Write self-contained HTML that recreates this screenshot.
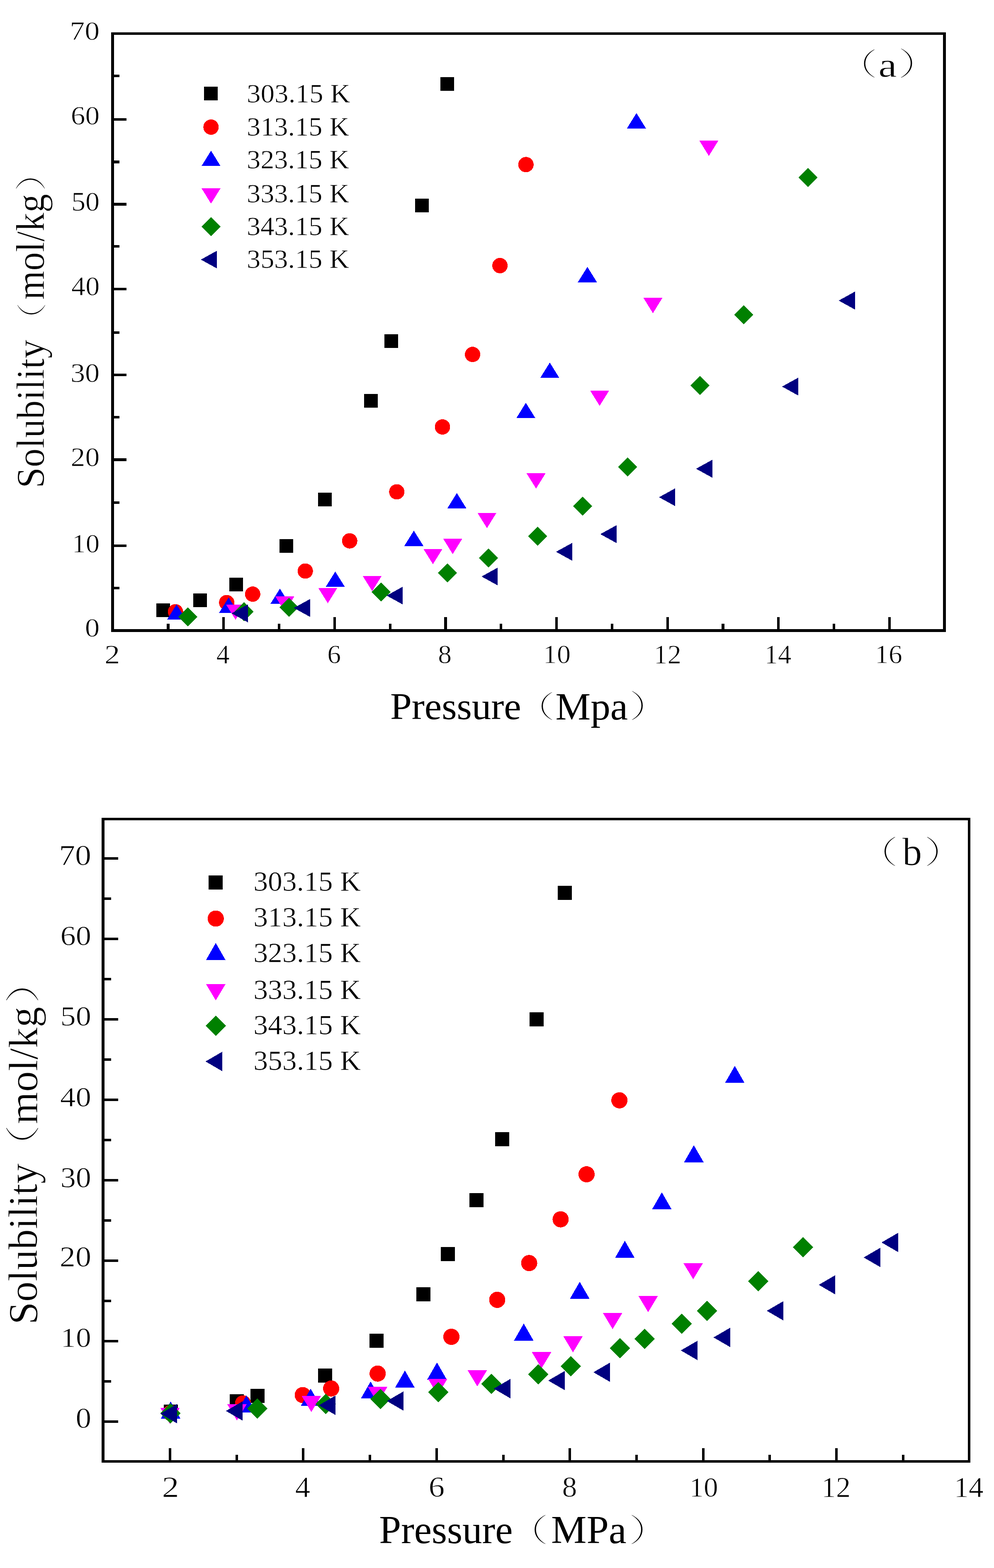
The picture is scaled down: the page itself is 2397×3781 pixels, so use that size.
<!DOCTYPE html>
<html><head><meta charset="utf-8"><title>Solubility vs Pressure</title>
<style>html,body{margin:0;padding:0;background:#fff;}svg{display:block;}</style></head>
<body>
<svg width="2397" height="3781" viewBox="0 0 2397 3781">
<rect x="0" y="0" width="2397" height="3781" fill="#fff"/>
<g shape-rendering="crispEdges">
<rect x="268.20" y="77.50" width="2012.70" height="6.40" fill="#000"/>
<rect x="268.20" y="1517.00" width="2012.70" height="6.70" fill="#000"/>
<rect x="268.20" y="77.50" width="6.80" height="1446.20" fill="#000"/>
<rect x="2274.10" y="77.50" width="6.80" height="1446.20" fill="#000"/>
<rect x="275.00" y="1312.85" width="30.00" height="6.30" fill="#000"/>
<rect x="275.00" y="1105.45" width="30.00" height="6.30" fill="#000"/>
<rect x="275.00" y="900.85" width="30.00" height="6.30" fill="#000"/>
<rect x="275.00" y="693.65" width="30.00" height="6.30" fill="#000"/>
<rect x="275.00" y="489.35" width="30.00" height="6.30" fill="#000"/>
<rect x="275.00" y="285.05" width="30.00" height="6.30" fill="#000"/>
<rect x="275.00" y="1414.85" width="13.00" height="6.30" fill="#000"/>
<rect x="275.00" y="1208.85" width="13.00" height="6.30" fill="#000"/>
<rect x="275.00" y="1002.85" width="13.00" height="6.30" fill="#000"/>
<rect x="275.00" y="798.65" width="13.00" height="6.30" fill="#000"/>
<rect x="275.00" y="591.05" width="13.00" height="6.30" fill="#000"/>
<rect x="275.00" y="387.35" width="13.00" height="6.30" fill="#000"/>
<rect x="275.00" y="179.75" width="13.00" height="6.30" fill="#000"/>
<rect x="536.07" y="1488.00" width="6.30" height="29.00" fill="#000"/>
<rect x="803.69" y="1488.00" width="6.30" height="29.00" fill="#000"/>
<rect x="1071.31" y="1488.00" width="6.30" height="29.00" fill="#000"/>
<rect x="1338.93" y="1488.00" width="6.30" height="29.00" fill="#000"/>
<rect x="1606.55" y="1488.00" width="6.30" height="29.00" fill="#000"/>
<rect x="1874.17" y="1488.00" width="6.30" height="29.00" fill="#000"/>
<rect x="2141.79" y="1488.00" width="6.30" height="29.00" fill="#000"/>
<rect x="402.26" y="1503.60" width="6.30" height="13.40" fill="#000"/>
<rect x="669.88" y="1503.60" width="6.30" height="13.40" fill="#000"/>
<rect x="937.50" y="1503.60" width="6.30" height="13.40" fill="#000"/>
<rect x="1205.12" y="1503.60" width="6.30" height="13.40" fill="#000"/>
<rect x="1472.74" y="1503.60" width="6.30" height="13.40" fill="#000"/>
<rect x="1740.36" y="1503.60" width="6.30" height="13.40" fill="#000"/>
<rect x="2007.98" y="1503.60" width="6.30" height="13.40" fill="#000"/>
<rect x="245.10" y="1972.00" width="2094.90" height="6.30" fill="#000"/>
<rect x="245.10" y="3521.00" width="2094.90" height="6.40" fill="#000"/>
<rect x="245.10" y="1972.00" width="6.70" height="1555.40" fill="#000"/>
<rect x="2333.90" y="1972.00" width="6.10" height="1555.40" fill="#000"/>
<rect x="251.80" y="3425.20" width="33.00" height="6.20" fill="#000"/>
<rect x="251.80" y="3231.20" width="33.00" height="6.20" fill="#000"/>
<rect x="251.80" y="3037.20" width="33.00" height="6.20" fill="#000"/>
<rect x="251.80" y="2843.20" width="33.00" height="6.20" fill="#000"/>
<rect x="251.80" y="2649.20" width="33.00" height="6.20" fill="#000"/>
<rect x="251.80" y="2455.20" width="33.00" height="6.20" fill="#000"/>
<rect x="251.80" y="2261.20" width="33.00" height="6.20" fill="#000"/>
<rect x="251.80" y="2067.20" width="33.00" height="6.20" fill="#000"/>
<rect x="251.80" y="3328.20" width="16.40" height="6.20" fill="#000"/>
<rect x="251.80" y="3134.20" width="16.40" height="6.20" fill="#000"/>
<rect x="251.80" y="2940.20" width="16.40" height="6.20" fill="#000"/>
<rect x="251.80" y="2746.20" width="16.40" height="6.20" fill="#000"/>
<rect x="251.80" y="2552.20" width="16.40" height="6.20" fill="#000"/>
<rect x="251.80" y="2358.20" width="16.40" height="6.20" fill="#000"/>
<rect x="251.80" y="2164.20" width="16.40" height="6.20" fill="#000"/>
<rect x="406.60" y="3491.70" width="6.40" height="29.30" fill="#000"/>
<rect x="728.08" y="3491.70" width="6.40" height="29.30" fill="#000"/>
<rect x="1049.56" y="3491.70" width="6.40" height="29.30" fill="#000"/>
<rect x="1371.04" y="3491.70" width="6.40" height="29.30" fill="#000"/>
<rect x="1692.52" y="3491.70" width="6.40" height="29.30" fill="#000"/>
<rect x="2014.00" y="3491.70" width="6.40" height="29.30" fill="#000"/>
<rect x="567.54" y="3508.40" width="6.00" height="12.60" fill="#000"/>
<rect x="889.02" y="3508.40" width="6.00" height="12.60" fill="#000"/>
<rect x="1210.50" y="3508.40" width="6.00" height="12.60" fill="#000"/>
<rect x="1531.98" y="3508.40" width="6.00" height="12.60" fill="#000"/>
<rect x="1853.46" y="3508.40" width="6.00" height="12.60" fill="#000"/>
<rect x="2174.94" y="3508.40" width="6.00" height="12.60" fill="#000"/>
<rect x="377.1" y="1454.5" width="33" height="33" fill="#000000"/>
<rect x="466.0" y="1431.3" width="33" height="33" fill="#000000"/>
<rect x="553.2" y="1393.3" width="33" height="33" fill="#000000"/>
<rect x="673.5" y="1299.7" width="33" height="33" fill="#000000"/>
<rect x="767.3" y="1187.5" width="33" height="33" fill="#000000"/>
<rect x="878.0" y="950.3" width="33" height="33" fill="#000000"/>
<rect x="927.1" y="805.5" width="33" height="33" fill="#000000"/>
<rect x="1001.3" y="478.9" width="33" height="33" fill="#000000"/>
<rect x="1062.2" y="185.9" width="33" height="33" fill="#000000"/>
<circle cx="423.2" cy="1475.2" r="18.5" fill="#ff0000"/>
<circle cx="546.7" cy="1453.0" r="18.5" fill="#ff0000"/>
<circle cx="609.3" cy="1432.7" r="18.5" fill="#ff0000"/>
<circle cx="736.2" cy="1377.0" r="18.5" fill="#ff0000"/>
<circle cx="843.2" cy="1304.2" r="18.5" fill="#ff0000"/>
<circle cx="956.8" cy="1186.0" r="18.5" fill="#ff0000"/>
<circle cx="1067.0" cy="1029.4" r="18.5" fill="#ff0000"/>
<circle cx="1139.6" cy="854.7" r="18.5" fill="#ff0000"/>
<circle cx="1205.6" cy="640.5" r="18.5" fill="#ff0000"/>
<circle cx="1268.3" cy="396.9" r="18.5" fill="#ff0000"/>
<polygon points="425.8,1457.3 448.8,1494.3 402.8,1494.3" fill="#0000ff"/>
<polygon points="551.4,1440.7 574.4,1477.7 528.4,1477.7" fill="#0000ff"/>
<polygon points="675.0,1419.3 698.0,1456.3 652.0,1456.3" fill="#0000ff"/>
<polygon points="808.5,1378.1 831.5,1415.1 785.5,1415.1" fill="#0000ff"/>
<polygon points="998.0,1279.5 1021.0,1316.5 975.0,1316.5" fill="#0000ff"/>
<polygon points="1101.7,1188.9 1124.7,1225.9 1078.7,1225.9" fill="#0000ff"/>
<polygon points="1268.1,971.3 1291.1,1008.3 1245.1,1008.3" fill="#0000ff"/>
<polygon points="1325.8,874.3 1348.8,911.3 1302.8,911.3" fill="#0000ff"/>
<polygon points="1416.5,643.5 1439.5,680.5 1393.5,680.5" fill="#0000ff"/>
<polygon points="1534.8,272.7 1557.8,309.7 1511.8,309.7" fill="#0000ff"/>
<polygon points="545.0,1457.5 591.0,1457.5 568.0,1494.5" fill="#ff00ff"/>
<polygon points="663.8,1438.0 709.8,1438.0 686.8,1475.0" fill="#ff00ff"/>
<polygon points="767.5,1417.7 813.5,1417.7 790.5,1454.7" fill="#ff00ff"/>
<polygon points="874.5,1388.5 920.5,1388.5 897.5,1425.5" fill="#ff00ff"/>
<polygon points="1021.0,1323.5 1067.0,1323.5 1044.0,1360.5" fill="#ff00ff"/>
<polygon points="1068.7,1299.1 1114.7,1299.1 1091.7,1336.1" fill="#ff00ff"/>
<polygon points="1151.3,1236.5 1197.3,1236.5 1174.3,1273.5" fill="#ff00ff"/>
<polygon points="1269.7,1141.2 1315.7,1141.2 1292.7,1178.2" fill="#ff00ff"/>
<polygon points="1423.0,941.7 1469.0,941.7 1446.0,978.7" fill="#ff00ff"/>
<polygon points="1551.5,718.2 1597.5,718.2 1574.5,755.2" fill="#ff00ff"/>
<polygon points="1686.4,339.0 1732.4,339.0 1709.4,376.0" fill="#ff00ff"/>
<polygon points="453.0,1464.4 476.0,1487.4 453.0,1510.4 430.0,1487.4" fill="#008000"/>
<polygon points="588.0,1452.0 611.0,1475.0 588.0,1498.0 565.0,1475.0" fill="#008000"/>
<polygon points="697.0,1441.4 720.0,1464.4 697.0,1487.4 674.0,1464.4" fill="#008000"/>
<polygon points="919.0,1404.3 942.0,1427.3 919.0,1450.3 896.0,1427.3" fill="#008000"/>
<polygon points="1078.8,1358.5 1101.8,1381.5 1078.8,1404.5 1055.8,1381.5" fill="#008000"/>
<polygon points="1177.5,1322.5 1200.5,1345.5 1177.5,1368.5 1154.5,1345.5" fill="#008000"/>
<polygon points="1296.0,1270.0 1319.0,1293.0 1296.0,1316.0 1273.0,1293.0" fill="#008000"/>
<polygon points="1405.0,1197.2 1428.0,1220.2 1405.0,1243.2 1382.0,1220.2" fill="#008000"/>
<polygon points="1513.4,1103.3 1536.4,1126.3 1513.4,1149.3 1490.4,1126.3" fill="#008000"/>
<polygon points="1688.0,906.1 1711.0,929.1 1688.0,952.1 1665.0,929.1" fill="#008000"/>
<polygon points="1793.6,735.9 1816.6,758.9 1793.6,781.9 1770.6,758.9" fill="#008000"/>
<polygon points="1948.4,405.1 1971.4,428.1 1948.4,451.1 1925.4,428.1" fill="#008000"/>
<polygon points="558.5,1479.0 597.5,1457.5 597.5,1500.5" fill="#000080"/>
<polygon points="708.6,1466.0 747.6,1444.5 747.6,1487.5" fill="#000080"/>
<polygon points="932.4,1436.2 971.4,1414.7 971.4,1457.7" fill="#000080"/>
<polygon points="1161.3,1390.2 1200.3,1368.7 1200.3,1411.7" fill="#000080"/>
<polygon points="1340.9,1330.6 1379.9,1309.1 1379.9,1352.1" fill="#000080"/>
<polygon points="1447.7,1288.0 1486.7,1266.5 1486.7,1309.5" fill="#000080"/>
<polygon points="1589.3,1199.0 1628.3,1177.5 1628.3,1220.5" fill="#000080"/>
<polygon points="1678.5,1130.3 1717.5,1108.8 1717.5,1151.8" fill="#000080"/>
<polygon points="1885.9,932.2 1924.9,910.7 1924.9,953.7" fill="#000080"/>
<polygon points="2022.5,724.8 2061.5,703.3 2061.5,746.3" fill="#000080"/>
<rect x="394.9" y="3386.9" width="34" height="34" fill="#000000"/>
<rect x="554.4" y="3361.5" width="34" height="34" fill="#000000"/>
<rect x="603.5" y="3348.7" width="34" height="34" fill="#000000"/>
<rect x="766.5" y="3300.4" width="34" height="34" fill="#000000"/>
<rect x="890.5" y="3216.3" width="34" height="34" fill="#000000"/>
<rect x="1003.7" y="3104.3" width="34" height="34" fill="#000000"/>
<rect x="1063.4" y="3007.2" width="34" height="34" fill="#000000"/>
<rect x="1132.2" y="2876.9" width="34" height="34" fill="#000000"/>
<rect x="1193.5" y="2730.2" width="34" height="34" fill="#000000"/>
<rect x="1277.2" y="2440.7" width="34" height="34" fill="#000000"/>
<rect x="1345.0" y="2135.5" width="34" height="34" fill="#000000"/>
<circle cx="411.5" cy="3407.0" r="19.5" fill="#ff0000"/>
<circle cx="586.0" cy="3384.0" r="19.5" fill="#ff0000"/>
<circle cx="730.0" cy="3364.0" r="19.5" fill="#ff0000"/>
<circle cx="798.6" cy="3348.2" r="19.5" fill="#ff0000"/>
<circle cx="910.7" cy="3312.2" r="19.5" fill="#ff0000"/>
<circle cx="1088.5" cy="3223.5" r="19.5" fill="#ff0000"/>
<circle cx="1199.0" cy="3134.4" r="19.5" fill="#ff0000"/>
<circle cx="1276.1" cy="3045.7" r="19.5" fill="#ff0000"/>
<circle cx="1351.9" cy="2940.2" r="19.5" fill="#ff0000"/>
<circle cx="1414.5" cy="2831.7" r="19.5" fill="#ff0000"/>
<circle cx="1493.7" cy="2653.3" r="19.5" fill="#ff0000"/>
<polygon points="411.5,3379.5 435.0,3420.5 388.0,3420.5" fill="#0000ff"/>
<polygon points="594.3,3364.9 617.8,3405.9 570.8,3405.9" fill="#0000ff"/>
<polygon points="749.2,3348.5 772.7,3389.5 725.7,3389.5" fill="#0000ff"/>
<polygon points="893.7,3331.3 917.2,3372.3 870.2,3372.3" fill="#0000ff"/>
<polygon points="976.4,3304.8 999.9,3345.8 952.9,3345.8" fill="#0000ff"/>
<polygon points="1053.8,3285.5 1077.3,3326.5 1030.3,3326.5" fill="#0000ff"/>
<polygon points="1263.0,3191.5 1286.5,3232.5 1239.5,3232.5" fill="#0000ff"/>
<polygon points="1398.0,3090.7 1421.5,3131.7 1374.5,3131.7" fill="#0000ff"/>
<polygon points="1506.8,2991.9 1530.3,3032.9 1483.3,3032.9" fill="#0000ff"/>
<polygon points="1596.0,2875.0 1619.5,2916.0 1572.5,2916.0" fill="#0000ff"/>
<polygon points="1673.2,2761.5 1696.7,2802.5 1649.7,2802.5" fill="#0000ff"/>
<polygon points="1771.9,2570.2 1795.4,2611.2 1748.4,2611.2" fill="#0000ff"/>
<polygon points="386.5,3394.7 433.5,3394.7 410.0,3433.7" fill="#ff00ff"/>
<polygon points="547.9,3386.0 594.9,3386.0 571.4,3425.0" fill="#ff00ff"/>
<polygon points="727.3,3365.9 774.3,3365.9 750.8,3404.9" fill="#ff00ff"/>
<polygon points="887.2,3344.1 934.2,3344.1 910.7,3383.1" fill="#ff00ff"/>
<polygon points="1032.0,3324.5 1079.0,3324.5 1055.5,3363.5" fill="#ff00ff"/>
<polygon points="1127.5,3304.1 1174.5,3304.1 1151.0,3343.1" fill="#ff00ff"/>
<polygon points="1282.5,3260.3 1329.5,3260.3 1306.0,3299.3" fill="#ff00ff"/>
<polygon points="1358.3,3222.0 1405.3,3222.0 1381.8,3261.0" fill="#ff00ff"/>
<polygon points="1453.8,3166.0 1500.8,3166.0 1477.3,3205.0" fill="#ff00ff"/>
<polygon points="1539.5,3125.1 1586.5,3125.1 1563.0,3164.1" fill="#ff00ff"/>
<polygon points="1648.1,3045.9 1695.1,3045.9 1671.6,3084.9" fill="#ff00ff"/>
<polygon points="410.5,3383.5 435.0,3408.0 410.5,3432.5 386.0,3408.0" fill="#008000"/>
<polygon points="620.5,3372.3 645.0,3396.8 620.5,3421.3 596.0,3396.8" fill="#008000"/>
<polygon points="785.8,3360.9 810.3,3385.4 785.8,3409.9 761.3,3385.4" fill="#008000"/>
<polygon points="917.2,3349.2 941.7,3373.7 917.2,3398.2 892.7,3373.7" fill="#008000"/>
<polygon points="1057.4,3332.5 1081.9,3357.0 1057.4,3381.5 1032.9,3357.0" fill="#008000"/>
<polygon points="1185.1,3312.6 1209.6,3337.1 1185.1,3361.6 1160.6,3337.1" fill="#008000"/>
<polygon points="1297.8,3289.7 1322.3,3314.2 1297.8,3338.7 1273.3,3314.2" fill="#008000"/>
<polygon points="1376.7,3270.1 1401.2,3294.6 1376.7,3319.1 1352.2,3294.6" fill="#008000"/>
<polygon points="1495.0,3226.8 1519.5,3251.3 1495.0,3275.8 1470.5,3251.3" fill="#008000"/>
<polygon points="1554.5,3203.6 1579.0,3228.1 1554.5,3252.6 1530.0,3228.1" fill="#008000"/>
<polygon points="1643.6,3167.5 1668.1,3192.0 1643.6,3216.5 1619.1,3192.0" fill="#008000"/>
<polygon points="1704.8,3136.5 1729.3,3161.0 1704.8,3185.5 1680.3,3161.0" fill="#008000"/>
<polygon points="1828.2,3065.2 1852.7,3089.7 1828.2,3114.2 1803.7,3089.7" fill="#008000"/>
<polygon points="1936.7,2983.0 1961.2,3007.5 1936.7,3032.0 1912.2,3007.5" fill="#008000"/>
<polygon points="386.8,3408.9 426.8,3385.7 426.8,3432.2" fill="#000080"/>
<polygon points="544.9,3402.3 584.9,3379.1 584.9,3425.6" fill="#000080"/>
<polygon points="768.8,3388.7 808.8,3365.4 808.8,3411.9" fill="#000080"/>
<polygon points="933.0,3378.4 973.0,3355.2 973.0,3401.7" fill="#000080"/>
<polygon points="1190.7,3348.5 1230.7,3325.2 1230.7,3371.8" fill="#000080"/>
<polygon points="1322.0,3329.0 1362.0,3305.8 1362.0,3352.2" fill="#000080"/>
<polygon points="1431.0,3309.0 1471.0,3285.8 1471.0,3332.2" fill="#000080"/>
<polygon points="1641.8,3256.4 1681.8,3233.2 1681.8,3279.7" fill="#000080"/>
<polygon points="1720.6,3225.0 1760.6,3201.8 1760.6,3248.2" fill="#000080"/>
<polygon points="1849.1,3160.8 1889.1,3137.6 1889.1,3184.1" fill="#000080"/>
<polygon points="1974.4,3098.2 2014.4,3074.9 2014.4,3121.4" fill="#000080"/>
<polygon points="2082.8,3032.2 2122.8,3008.9 2122.8,3055.4" fill="#000080"/>
<polygon points="2125.8,2996.0 2165.8,2972.8 2165.8,3019.2" fill="#000080"/>
<rect x="492.4" y="209.2" width="33" height="33" fill="#000000"/>
<rect x="503.3" y="2111.0" width="34" height="34" fill="#000000"/>
<circle cx="508.9" cy="306.5" r="18.5" fill="#ff0000"/>
<circle cx="520.3" cy="2215.0" r="19.5" fill="#ff0000"/>
<polygon points="508.9,363.4 531.9,400.4 485.9,400.4" fill="#0000ff"/>
<polygon points="520.3,2273.8 543.8,2314.8 496.8,2314.8" fill="#0000ff"/>
<polygon points="485.9,454.0 531.9,454.0 508.9,491.0" fill="#ff00ff"/>
<polygon points="496.8,2373.3 543.8,2373.3 520.3,2412.3" fill="#ff00ff"/>
<polygon points="508.9,523.7 531.9,546.7 508.9,569.7 485.9,546.7" fill="#008000"/>
<polygon points="520.3,2449.3 544.8,2473.8 520.3,2498.3 495.8,2473.8" fill="#008000"/>
<polygon points="484.4,626.0 523.4,604.5 523.4,647.5" fill="#000080"/>
<polygon points="495.6,2559.6 535.6,2536.3 535.6,2582.8" fill="#000080"/>
</g>
<g fill="#000">
<text transform="translate(168.36,95.81) scale(1.1196,1)" font-family="Liberation Serif, serif" font-weight="400" font-size="64.33" stroke="#fff" stroke-width="0.9">70</text>
<text transform="translate(170.82,300.22) scale(1.0848,1)" font-family="Liberation Serif, serif" font-weight="400" font-size="64.03" stroke="#fff" stroke-width="0.9">60</text>
<text transform="translate(171.90,508.10) scale(1.0549,1)" font-family="Liberation Serif, serif" font-weight="400" font-size="64.78" stroke="#fff" stroke-width="0.9">50</text>
<text transform="translate(172.04,712.09) scale(1.0431,1)" font-family="Liberation Serif, serif" font-weight="400" font-size="65.37" stroke="#fff" stroke-width="0.9">40</text>
<text transform="translate(169.88,920.61) scale(1.0925,1)" font-family="Liberation Serif, serif" font-weight="400" font-size="64.48" stroke="#fff" stroke-width="0.9">30</text>
<text transform="translate(170.61,1124.31) scale(1.0806,1)" font-family="Liberation Serif, serif" font-weight="400" font-size="64.48" stroke="#fff" stroke-width="0.9">20</text>
<text transform="translate(173.39,1331.74) scale(1.0561,1)" font-family="Liberation Serif, serif" font-weight="400" font-size="63.24" stroke="#fff" stroke-width="0.9">10</text>
<text transform="translate(204.75,1534.75) scale(1.1357,1)" font-family="Liberation Serif, serif" font-weight="400" font-size="62.69" stroke="#fff" stroke-width="0.9">0</text>
<text transform="translate(252.01,1600.00) scale(1.1299,1)" font-family="Liberation Serif, serif" font-weight="400" font-size="66.15" stroke="#fff" stroke-width="0.9">2</text>
<text transform="translate(521.72,1600.00) scale(0.9694,1)" font-family="Liberation Serif, serif" font-weight="400" font-size="66.15" stroke="#fff" stroke-width="0.9">4</text>
<text transform="translate(789.17,1598.72) scale(1.0255,1)" font-family="Liberation Serif, serif" font-weight="400" font-size="64.18" stroke="#fff" stroke-width="0.9">6</text>
<text transform="translate(1056.27,1598.72) scale(1.0239,1)" font-family="Liberation Serif, serif" font-weight="400" font-size="64.18" stroke="#fff" stroke-width="0.9">8</text>
<text transform="translate(1309.83,1598.74) scale(1.0488,1)" font-family="Liberation Serif, serif" font-weight="400" font-size="63.24" stroke="#fff" stroke-width="0.9">10</text>
<text transform="translate(1576.53,1600.00) scale(1.0184,1)" font-family="Liberation Serif, serif" font-weight="400" font-size="65.15" stroke="#fff" stroke-width="0.9">12</text>
<text transform="translate(1843.47,1600.00) scale(0.9951,1)" font-family="Liberation Serif, serif" font-weight="400" font-size="65.15" stroke="#fff" stroke-width="0.9">14</text>
<text transform="translate(2110.09,1598.74) scale(1.0387,1)" font-family="Liberation Serif, serif" font-weight="400" font-size="63.24" stroke="#fff" stroke-width="0.9">16</text>
<text transform="translate(941.00,1733.89) scale(1.0251,1)" font-family="Liberation Serif, serif" font-weight="400" font-size="90.91">Pressure</text>
<text transform="translate(1240.58,1730.44) scale(1.3317,1)" font-family="Liberation Serif, Noto Serif CJK SC, serif" font-weight="200" font-size="73.98" stroke="#fff" stroke-width="1.5">（</text>
<text transform="translate(1339.44,1734.81) scale(1.0317,1)" font-family="Liberation Serif, serif" font-weight="400" font-size="92.33">Mpa</text>
<text transform="translate(1516.15,1730.68) scale(1.3103,1)" font-family="Liberation Serif, Noto Serif CJK SC, serif" font-weight="200" font-size="76.88" stroke="#fff" stroke-width="1.5">）</text>
<text transform="translate(106.45,1177.26) rotate(-90) scale(0.9563,1)" font-family="Liberation Serif, serif" font-weight="400" font-size="95.00" stroke="#fff" stroke-width="1.0">Solubility</text>
<text transform="translate(103.03,817.27) rotate(-90) scale(1.1998,1)" font-family="Liberation Serif, Noto Serif CJK SC, serif" font-weight="200" font-size="74.09" stroke="#fff" stroke-width="1.5">（</text>
<text transform="translate(105.77,723.10) rotate(-90) scale(0.9223,1)" font-family="Liberation Serif, serif" font-weight="400" font-size="97.78" stroke="#fff" stroke-width="1.0">mol/kg</text>
<text transform="translate(102.79,462.26) rotate(-90) scale(1.2398,1)" font-family="Liberation Serif, Noto Serif CJK SC, serif" font-weight="200" font-size="76.77" stroke="#fff" stroke-width="1.5">）</text>
<text transform="translate(2017.73,182.45) scale(1.3195,1)" font-family="Liberation Serif, Noto Serif CJK SC, serif" font-weight="200" font-size="74.95" stroke="#fff" stroke-width="1.5">（</text>
<text transform="translate(2118.37,185.48) scale(1.2308,1)" font-family="Liberation Serif, serif" font-weight="400" font-size="81.88" stroke="#fff" stroke-width="0.8">a</text>
<text transform="translate(2164.74,182.21) scale(1.3358,1)" font-family="Liberation Serif, Noto Serif CJK SC, serif" font-weight="200" font-size="77.63" stroke="#fff" stroke-width="1.5">）</text>
<text transform="translate(594.94,247.45) scale(1.0716,1)" font-family="Liberation Serif, serif" font-weight="400" font-size="62.65" stroke="#fff" stroke-width="0.7">303.15 K</text>
<text transform="translate(594.98,326.96) scale(1.0442,1)" font-family="Liberation Serif, serif" font-weight="400" font-size="63.58" stroke="#fff" stroke-width="0.7">313.15 K</text>
<text transform="translate(594.98,405.76) scale(1.0442,1)" font-family="Liberation Serif, serif" font-weight="400" font-size="63.58" stroke="#fff" stroke-width="0.7">323.15 K</text>
<text transform="translate(594.98,488.06) scale(1.0442,1)" font-family="Liberation Serif, serif" font-weight="400" font-size="63.58" stroke="#fff" stroke-width="0.7">333.15 K</text>
<text transform="translate(594.98,567.26) scale(1.0442,1)" font-family="Liberation Serif, serif" font-weight="400" font-size="63.58" stroke="#fff" stroke-width="0.7">343.15 K</text>
<text transform="translate(594.98,646.16) scale(1.0442,1)" font-family="Liberation Serif, serif" font-weight="400" font-size="63.58" stroke="#fff" stroke-width="0.7">353.15 K</text>
<text transform="translate(142.14,2085.62) scale(1.1284,1)" font-family="Liberation Serif, serif" font-weight="400" font-size="69.10" stroke="#fff" stroke-width="0.9">70</text>
<text transform="translate(145.52,2279.43) scale(1.0892,1)" font-family="Liberation Serif, serif" font-weight="400" font-size="68.36" stroke="#fff" stroke-width="0.9">60</text>
<text transform="translate(145.53,2473.34) scale(1.0962,1)" font-family="Liberation Serif, serif" font-weight="400" font-size="67.91" stroke="#fff" stroke-width="0.9">50</text>
<text transform="translate(145.10,2667.96) scale(1.1176,1)" font-family="Liberation Serif, serif" font-weight="400" font-size="67.01" stroke="#fff" stroke-width="0.9">40</text>
<text transform="translate(145.79,2863.12) scale(1.0734,1)" font-family="Liberation Serif, serif" font-weight="400" font-size="69.10" stroke="#fff" stroke-width="0.9">30</text>
<text transform="translate(143.75,3054.31) scale(1.0994,1)" font-family="Liberation Serif, serif" font-weight="400" font-size="69.40" stroke="#fff" stroke-width="0.9">20</text>
<text transform="translate(146.27,3248.35) scale(1.0939,1)" font-family="Liberation Serif, serif" font-weight="400" font-size="67.35" stroke="#fff" stroke-width="0.9">10</text>
<text transform="translate(182.39,3443.42) scale(1.0911,1)" font-family="Liberation Serif, serif" font-weight="400" font-size="68.96" stroke="#fff" stroke-width="0.9">0</text>
<text transform="translate(390.60,3610.00) scale(1.1607,1)" font-family="Liberation Serif, serif" font-weight="400" font-size="71.08" stroke="#fff" stroke-width="0.9">2</text>
<text transform="translate(711.64,3610.00) scale(1.0246,1)" font-family="Liberation Serif, serif" font-weight="400" font-size="71.08" stroke="#fff" stroke-width="0.9">4</text>
<text transform="translate(1033.50,3608.62) scale(1.1231,1)" font-family="Liberation Serif, serif" font-weight="400" font-size="68.96" stroke="#fff" stroke-width="0.9">6</text>
<text transform="translate(1355.42,3608.62) scale(1.0428,1)" font-family="Liberation Serif, serif" font-weight="400" font-size="68.96" stroke="#fff" stroke-width="0.9">8</text>
<text transform="translate(1662.46,3608.64) scale(1.0202,1)" font-family="Liberation Serif, serif" font-weight="400" font-size="67.94" stroke="#fff" stroke-width="0.9">10</text>
<text transform="translate(1980.86,3610.00) scale(1.0067,1)" font-family="Liberation Serif, serif" font-weight="400" font-size="70.00" stroke="#fff" stroke-width="0.9">12</text>
<text transform="translate(2300.38,3610.00) scale(1.0193,1)" font-family="Liberation Serif, serif" font-weight="400" font-size="70.00" stroke="#fff" stroke-width="0.9">14</text>
<text transform="translate(914.35,3720.86) scale(1.0071,1)" font-family="Liberation Serif, serif" font-weight="400" font-size="94.39">Pressure</text>
<text transform="translate(1221.48,3717.92) scale(1.3138,1)" font-family="Liberation Serif, Noto Serif CJK SC, serif" font-weight="200" font-size="77.53" stroke="#fff" stroke-width="1.5">（</text>
<text transform="translate(1329.02,3720.55) scale(1.0165,1)" font-family="Liberation Serif, serif" font-weight="400" font-size="94.55">MPa</text>
<text transform="translate(1515.37,3717.92) scale(1.3138,1)" font-family="Liberation Serif, Noto Serif CJK SC, serif" font-weight="200" font-size="77.53" stroke="#fff" stroke-width="1.5">）</text>
<text transform="translate(89.49,3194.10) rotate(-90) scale(0.9949,1)" font-family="Liberation Serif, serif" font-weight="400" font-size="99.11" stroke="#fff" stroke-width="1.0">Solubility</text>
<text transform="translate(86.26,2821.79) rotate(-90) scale(1.3053,1)" font-family="Liberation Serif, Noto Serif CJK SC, serif" font-weight="200" font-size="84.84" stroke="#fff" stroke-width="1.5">（</text>
<text transform="translate(89.57,2710.80) rotate(-90) scale(1.0037,1)" font-family="Liberation Serif, serif" font-weight="400" font-size="99.67" stroke="#fff" stroke-width="1.0">mol/kg</text>
<text transform="translate(86.26,2420.85) rotate(-90) scale(1.3053,1)" font-family="Liberation Serif, Noto Serif CJK SC, serif" font-weight="200" font-size="84.84" stroke="#fff" stroke-width="1.5">）</text>
<text transform="translate(2067.23,2082.66) scale(1.2827,1)" font-family="Liberation Serif, Noto Serif CJK SC, serif" font-weight="200" font-size="77.10" stroke="#fff" stroke-width="1.5">（</text>
<text transform="translate(2175.90,2085.95) scale(0.9976,1)" font-family="Liberation Serif, serif" font-weight="400" font-size="94.57" stroke="#fff" stroke-width="0.8">b</text>
<text transform="translate(2227.98,2082.66) scale(1.2827,1)" font-family="Liberation Serif, Noto Serif CJK SC, serif" font-weight="200" font-size="77.10" stroke="#fff" stroke-width="1.5">）</text>
<text transform="translate(611.22,2147.85) scale(1.0291,1)" font-family="Liberation Serif, serif" font-weight="400" font-size="67.65" stroke="#fff" stroke-width="0.7">303.15 K</text>
<text transform="translate(611.22,2234.31) scale(1.0140,1)" font-family="Liberation Serif, serif" font-weight="400" font-size="68.66" stroke="#fff" stroke-width="0.7">313.15 K</text>
<text transform="translate(611.22,2319.61) scale(1.0140,1)" font-family="Liberation Serif, serif" font-weight="400" font-size="68.66" stroke="#fff" stroke-width="0.7">323.15 K</text>
<text transform="translate(611.22,2408.81) scale(1.0140,1)" font-family="Liberation Serif, serif" font-weight="400" font-size="68.66" stroke="#fff" stroke-width="0.7">333.15 K</text>
<text transform="translate(611.22,2494.31) scale(1.0140,1)" font-family="Liberation Serif, serif" font-weight="400" font-size="68.66" stroke="#fff" stroke-width="0.7">343.15 K</text>
<text transform="translate(611.22,2579.81) scale(1.0140,1)" font-family="Liberation Serif, serif" font-weight="400" font-size="68.66" stroke="#fff" stroke-width="0.7">353.15 K</text>
</g>
</svg>
</body></html>
